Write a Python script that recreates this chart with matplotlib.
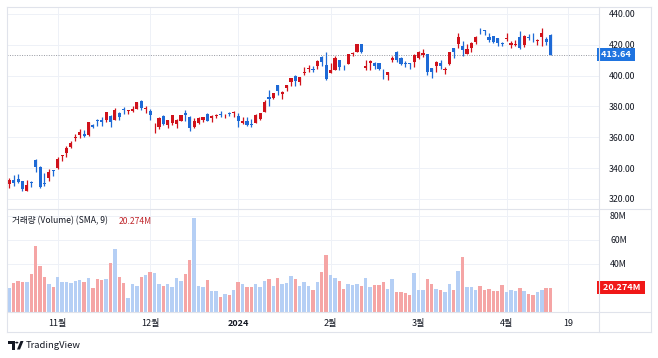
import matplotlib
matplotlib.use("Agg")
import matplotlib.pyplot as plt
import matplotlib.transforms as mtransforms
from matplotlib.patches import Polygon, Circle
from matplotlib.lines import Line2D
import pandas as pd
import numpy as np

plt.rcParams['font.family'] = ['Noto Sans CJK KR', 'DejaVu Sans']

# trading days (NYSE holidays removed)
holidays = ['2023-11-23', '2023-12-25', '2024-01-01', '2024-01-15', '2024-02-19', '2024-03-29']
dates = pd.bdate_range('2023-10-17', '2024-04-15')
dates = dates[~dates.isin(pd.to_datetime(holidays))]

opens = [329.59, 332.49, 332.68, 331.72, 325.47, 331.30, 345.02, 340.54, 330.43, 333.41, 338.85,
         339.79, 347.77, 349.63, 353.45, 359.40, 361.68, 362.30, 361.49, 368.22, 371.01, 371.27,
         370.96, 373.61, 371.22, 375.67, 378.00, 377.33, 376.78, 378.35, 383.76, 378.49,
         376.76, 369.10, 366.45, 373.54, 368.23, 369.20, 368.48, 370.85, 376.02, 373.31, 366.85,
         369.45, 371.49, 375.00, 372.56, 373.68, 375.00, 373.69, 375.37, 376.00,
         373.86, 369.01, 370.67, 368.97, 369.30, 372.01, 376.37, 386.00, 385.49, 393.66, 387.98,
         391.72, 395.76, 400.02, 395.75, 401.54, 404.32, 404.37, 406.06, 412.26, 406.96,
         401.83, 403.81, 409.90, 405.88, 407.44, 414.05, 415.25, 420.56, 404.94, 408.07, 408.14,
         407.96, 403.24, 400.17, 410.19, 415.67, 411.46, 407.99, 408.20, 408.64,
         411.27, 413.44, 413.96, 405.13, 406.12, 407.96, 403.76, 407.62, 418.10, 420.24, 419.29,
         414.25, 417.83, 422.00, 429.83, 429.70, 425.24, 425.61, 424.44, 420.96,
         423.95, 420.11, 419.73, 424.99, 420.01, 425.17, 426.44, 422.19, 424.99, 424.05, 426.60]
highs = [333.91, 335.59, 336.18, 331.92, 332.45, 331.99, 346.20, 341.63, 336.72, 339.45, 339.00,
         347.42, 348.83, 354.39, 357.54, 362.46, 365.18, 364.79, 370.10, 368.47, 371.95, 373.13,
         376.35, 374.37, 378.87, 376.22, 379.79, 377.97, 380.64, 383.00, 384.30, 380.09,
         378.16, 369.52, 373.07, 374.18, 371.45, 374.46, 371.60, 374.42, 377.64, 373.76, 372.40,
         373.00, 373.26, 376.03, 374.41, 375.18, 376.94, 375.06, 376.46, 377.16,
         375.90, 373.26, 373.10, 372.06, 375.20, 375.99, 384.17, 390.68, 388.68, 394.03, 390.11,
         393.99, 398.67, 400.62, 399.38, 405.63, 407.01, 406.17, 409.98, 413.05, 415.32,
         408.00, 412.65, 410.41, 407.00, 414.30, 415.56, 420.82, 420.74, 410.07, 410.16, 409.13,
         408.29, 404.49, 402.29, 412.83, 415.86, 412.08, 409.78, 408.50, 414.20,
         415.87, 417.35, 414.25, 405.16, 409.78, 410.42, 405.68, 415.57, 418.18, 427.82, 422.60,
         420.73, 421.67, 425.96, 430.82, 429.86, 427.41, 425.99, 424.45, 421.87,
         427.89, 422.38, 423.26, 428.67, 426.51, 427.28, 427.74, 424.04, 431.00, 425.18, 426.82]
lows = [327.07, 328.30, 330.25, 325.45, 325.00, 327.60, 337.62, 326.94, 328.40, 331.83, 334.69,
        339.65, 344.77, 347.33, 353.35, 357.63, 359.47, 360.36, 361.07, 365.90, 367.35, 367.11,
        370.18, 367.00, 371.00, 371.12, 374.97, 375.14, 376.20, 378.16, 377.44, 375.47,
        371.31, 362.90, 365.62, 368.03, 366.32, 368.23, 366.10, 370.46, 370.33, 364.13, 366.28,
        368.68, 369.84, 370.53, 370.04, 372.71, 373.50, 372.81, 374.16, 373.48,
        366.77, 368.51, 367.17, 366.50, 369.01, 371.19, 376.32, 380.38, 384.65, 387.62, 384.81,
        390.12, 393.50, 393.59, 393.93, 400.45, 402.53, 402.43, 404.33, 406.45, 397.21,
        401.80, 403.56, 403.39, 403.55, 407.40, 412.53, 415.09, 414.75, 403.39, 403.40, 404.29,
        403.44, 398.01, 397.22, 408.57, 408.97, 406.88, 405.89, 404.40, 405.92,
        410.88, 412.32, 400.64, 398.39, 402.24, 404.33, 401.26, 406.79, 411.45, 417.99, 412.79,
        413.78, 415.55, 420.66, 427.16, 426.07, 421.61, 421.35, 419.01, 419.12,
        422.22, 417.84, 419.09, 417.57, 418.32, 423.30, 421.62, 419.70, 419.02, 419.77, 413.43]
closes = [332.06, 330.11, 331.32, 326.67, 329.32, 330.53, 340.67, 327.89, 329.81, 337.31, 338.11,
          346.07, 348.32, 352.80, 356.53, 360.53, 363.20, 360.69, 369.67, 366.68, 370.27, 369.67,
          376.17, 369.85, 377.44, 373.07, 377.85, 377.43, 378.61, 382.70, 378.85, 378.91,
          374.51, 369.14, 372.52, 368.80, 370.95, 374.23, 371.30, 374.38, 374.37, 365.93, 370.73,
          372.65, 373.26, 370.62, 373.54, 374.58, 374.66, 374.07, 375.28, 376.04,
          370.87, 370.60, 367.94, 367.75, 374.69, 375.79, 382.77, 384.63, 388.47, 390.27, 389.47,
          393.87, 398.67, 396.51, 398.90, 402.56, 404.87, 403.93, 409.72, 408.59, 397.58,
          403.78, 411.22, 405.65, 405.49, 414.05, 414.11, 420.55, 415.26, 406.32, 409.49, 406.56,
          404.06, 402.79, 402.18, 411.65, 410.34, 407.54, 407.48, 407.72, 413.64,
          415.50, 414.92, 402.65, 402.09, 409.14, 406.22, 404.52, 415.28, 415.10, 425.22, 416.42,
          417.32, 421.41, 425.23, 429.37, 428.74, 422.86, 421.65, 421.43, 420.72,
          424.57, 421.44, 420.45, 417.88, 425.52, 424.59, 426.28, 423.26, 427.93, 421.90, 413.64]
volumes = [20.0, 24.0, 25.5, 25.3, 24.7, 31.7, 55.0, 38.0, 29.5, 23.3, 21.0,
           28.8, 24.7, 24.7, 24.0, 26.0, 27.0, 25.3, 28.3, 20.0, 27.4, 27.0, 27.5, 40.5, 52.5,
           28.8, 24.0, 11.4, 23.3, 21.7, 29.3, 30.6,
           33.0, 32.3, 23.7, 21.7, 23.7, 20.9, 28.0, 25.7, 31.4, 43.5, 78.5, 21.5, 20.9, 26.5,
           17.7, 17.1, 12.7, 14.9, 14.3, 18.7,
           25.3, 23.1, 20.9, 21.0, 23.1, 20.8, 25.5, 27.9, 21.6, 28.3, 23.0, 23.8, 29.7, 27.2,
           21.3, 25.1, 21.8, 18.4, 24.8, 33.7, 47.7,
           31.0, 28.5, 25.8, 18.9, 23.0, 22.5, 23.0, 21.7, 28.6, 20.9, 22.2, 22.8, 25.0, 19.5,
           27.2, 16.9, 16.9, 15.6, 14.0, 32.4,
           18.1, 18.1, 27.2, 23.0, 19.3, 18.7, 17.0, 23.0, 18.1, 34.0, 45.6, 20.9, 20.6, 18.1,
           21.7, 18.6, 18.9, 17.2, 17.2, 22.5,
           16.9, 18.3, 17.5, 20.2, 17.2, 15.3, 13.9, 16.6, 18.6, 19.7, 20.274]

price_ticks = [320, 340, 360, 380, 400, 420, 440]
vol_ticks = [40, 60, 80]
tick_labels = ['11월', '12월', '2024', '2월', '3월', '4월', '19']
last_price = 413.64
last_vol = 20.274

UP = '#d0121b'
DOWN = '#1e6ad6'
VOL_UP = '#b5cff5'
VOL_DOWN = '#f5a5a5'
GRID = '#eef1f7'
BORDER = '#e0e3eb'
TEXT = '#131722'

W, H = 658, 358
fig = plt.figure(figsize=(W / 100, H / 100), dpi=100)


def box(x0, y0, x1, y1):
    # pixel box (top-left origin) -> figure rect
    return [x0 / W, 1 - y1 / H, (x1 - x0) / W, (y1 - y0) / H]


ax_p = fig.add_axes(box(7, 7, 599, 209))
ax_v = fig.add_axes(box(7, 209, 599, 312), sharex=ax_p)

x = np.arange(len(closes))
o = np.array(opens)
c = np.array(closes)
up = c >= o
cols = np.where(up, UP, DOWN)

# candles
ax_p.vlines(x, lows, highs, colors=cols, lw=0.9, zorder=2)
body_h = np.maximum(np.abs(c - o), 0.4)
ax_p.bar(x, body_h, bottom=np.minimum(o, c), width=0.72, color=cols, zorder=3)

# volume
vcols = np.where(up, VOL_UP, VOL_DOWN)
ax_v.bar(x, volumes, width=0.78, color=vcols, zorder=2)

# x axis ticks
month_pos = [int(np.argmax((dates.month == m) & (dates.year == y))) for y, m in
             [(2023, 11), (2023, 12), (2024, 1), (2024, 2), (2024, 3), (2024, 4)]]
tick_pos = month_pos + [len(dates) - 1 + 4]
ax_v.set_xlim(-0.52, 134.0)
ax_v.set_xticks(tick_pos)
ax_v.set_xticklabels(tick_labels)
ax_v.tick_params(axis='x', length=0, pad=5, labelsize=6.5, colors=TEXT)
ax_v.get_xticklabels()[2].set_fontweight('bold')
ax_p.tick_params(axis='x', bottom=False, labelbottom=False)

# price axis
ax_p.set_ylim(313.51, 444.54)
ax_p.yaxis.tick_right()
ax_p.set_yticks(price_ticks)
ax_p.set_yticklabels([f"{t:.2f}" for t in price_ticks])
ax_p.tick_params(axis='y', length=0, pad=7, labelsize=6.3, colors=TEXT)

# volume axis
ax_v.set_ylim(0, 85.8)
ax_v.yaxis.tick_right()
ax_v.set_yticks(vol_ticks)
ax_v.set_yticklabels([f"{t}M" for t in vol_ticks])
ax_v.tick_params(axis='y', length=0, pad=8, labelsize=6.3, colors=TEXT)

for ax in (ax_p, ax_v):
    ax.grid(True, color=GRID, lw=0.7)
    ax.set_axisbelow(True)
    for s in ax.spines.values():
        s.set_visible(False)

# last price line + labels
ax_p.axhline(last_price, color='#9598a1', lw=0.7, ls=(0, (1, 1.5)), zorder=1)
tr = mtransforms.blended_transform_factory(ax_p.transAxes, ax_p.transData)
ax_p.text(1.0, last_price, f" {last_price:.2f} ", transform=tr, ha='left', va='center',
          fontsize=6.5, color='white', fontweight='bold',
          bbox=dict(boxstyle='square,pad=0.25', fc='#1f74e0', ec='none'))
trv = mtransforms.blended_transform_factory(ax_v.transAxes, ax_v.transData)
ax_v.text(1.0, last_vol, f"  {last_vol:.3f}M ", transform=trv, ha='left', va='center',
          fontsize=6.5, color='white', fontweight='bold',
          bbox=dict(boxstyle='square,pad=0.25', fc='#f01818', ec='none'))

# volume legend
fig.text(12 / W, 1 - 221 / H, '거래량 (Volume) (SMA, 9)', ha='left', va='center',
         fontsize=6.2, color=TEXT)
fig.text(119 / W, 1 - 221 / H, f'{last_vol:.3f}M', ha='left', va='center',
         fontsize=6.2, color='#c0282d')


# frame / separators
def pline(x0, y0, x1, y1):
    fig.add_artist(Line2D([x0 / W, x1 / W], [1 - y0 / H, 1 - y1 / H], color=BORDER, lw=0.8))


pline(7, 7, 651, 7)
pline(7, 332, 651, 332)
pline(7, 7, 7, 332)
pline(651, 7, 651, 332)
pline(599, 7, 599, 332)
pline(7, 209, 651, 209)
pline(7, 312, 651, 312)


# TradingView logo
def P(px, py):
    return (px / W, 1 - py / H)


logo_c = '#131722'
fig.add_artist(Polygon([P(8, 341), P(14.5, 341), P(14.5, 349.5), P(11.5, 349.5), P(11.5, 344), P(8, 344)],
                       closed=True, fc=logo_c, ec='none', transform=fig.transFigure))
fig.add_artist(Circle(P(16.8, 342.6), 1.6 / W, fc=logo_c, ec='none', transform=fig.transFigure))
fig.add_artist(Polygon([P(17, 349.5), P(20.5, 341), P(23.5, 341), P(20, 349.5)],
                       closed=True, fc=logo_c, ec='none', transform=fig.transFigure))
fig.text(26 / W, 1 - 345.5 / H, 'TradingView', ha='left', va='center', fontsize=6.8, color=logo_c)

fig.savefig('out.png', dpi=100, facecolor='white')
